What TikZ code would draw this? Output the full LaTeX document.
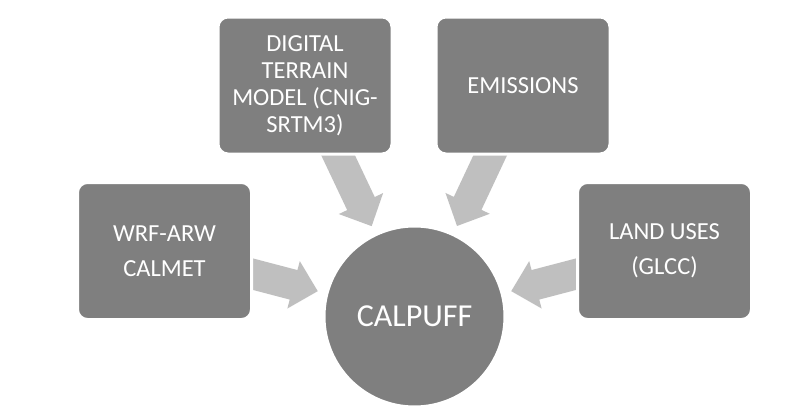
\documentclass[tikz,border=0pt]{standalone}
\usepackage{fontspec}
\setmainfont{Carlito}
\usetikzlibrary{calc,backgrounds}
\definecolor{boxgray}{RGB}{127,127,127}
\definecolor{arrowgray}{RGB}{191,191,191}
\tikzset{
  inbox/.style={draw=white, line width=3pt, fill=boxgray, rounded corners=10pt,
    minimum width=174pt, minimum height=137pt, text=white, align=center,
    inner sep=0pt, font=\fontsize{24.5}{35}\selectfont},
  hub/.style={circle, draw=white, line width=3pt, fill=boxgray, minimum size=181pt,
    text=white, inner sep=0pt, font=\fontsize{32}{38}\selectfont},
  arrowfill/.style={fill=arrowgray}
}
\newcommand\blockarrow[2]{%
  \coordinate (#1-tip) at ($(#2.center)!100pt!(#1.center)$);
  \coordinate (#1-neck) at ($(#1-tip)!25pt!(#1.center)$);
  \fill[arrowfill] ($(#1.center)!15.25pt!90:(#1-tip)$)
    -- ($(#1-neck)!15.25pt!90:(#1-tip)$)
    -- ($(#1-neck)!24.5pt!90:(#1-tip)$)
    -- (#1-tip)
    -- ($(#1-neck)!24.5pt!-90:(#1-tip)$)
    -- ($(#1-neck)!15.25pt!-90:(#1-tip)$)
    -- ($(#1.center)!15.25pt!-90:(#1-tip)$) -- cycle;
}
\begin{document}
\begin{tikzpicture}[x=1pt,y=-1pt]
\useasboundingbox (0,0) rectangle (812,410);
\node[inbox, font=\fontsize{24.5}{27}\selectfont] (dtm) at (305,85.5) {DIGITAL\\TERRAIN\\MODEL (CNIG-\\SRTM3)};
\node[inbox] (emi) at (523,85.5) {\raisebox{-4.5pt}{EMISSIONS}};
\node[inbox] (wrf) at (164.5,251) {WRF-ARW\\CALMET};
\node[inbox] (land) at (664.5,251) {LAND USES\\(GLCC)};
\node[hub] (calpuff) at (414.5,316.5) {CALPUFF};
\begin{scope}[on background layer]
  \fill[white] (0,0) rectangle (812,410);
  \blockarrow{dtm}{calpuff}
  \blockarrow{emi}{calpuff}
  \blockarrow{wrf}{calpuff}
  \blockarrow{land}{calpuff}
\end{scope}
\end{tikzpicture}
\end{document}
